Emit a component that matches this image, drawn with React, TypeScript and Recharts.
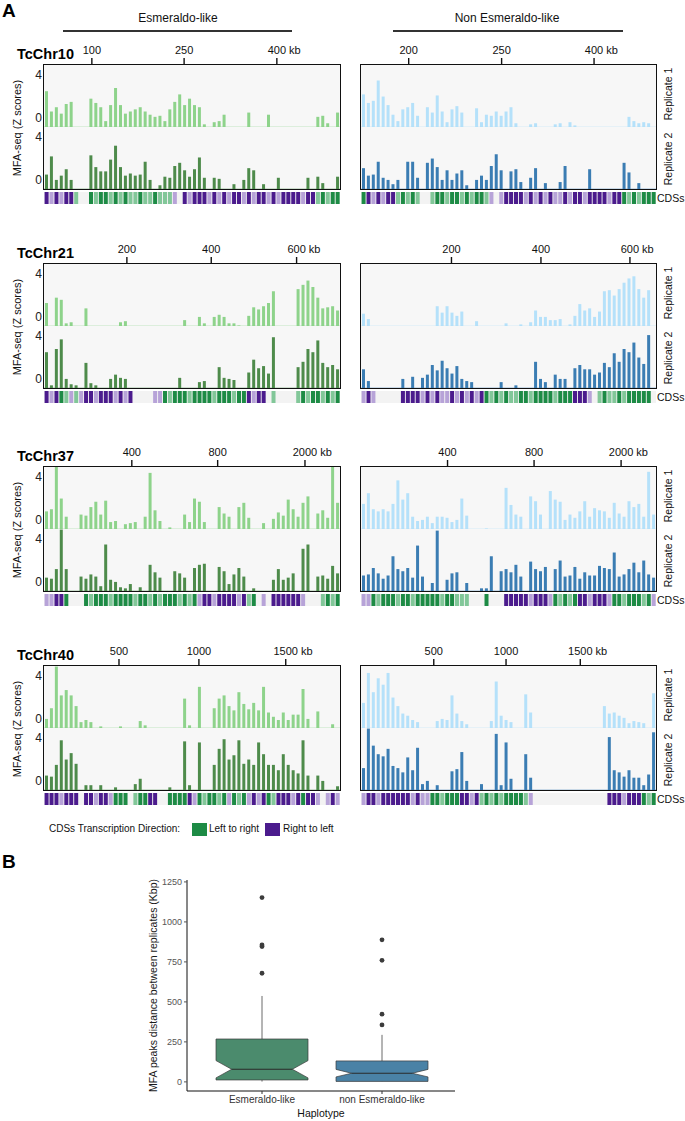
import React from 'react';
import { BarChart, Bar, XAxis, YAxis, Cell, ReferenceLine, ComposedChart, Scatter } from 'recharts';

const FONT = '"Liberation Sans", Arial, Helvetica, sans-serif';
const _ = null;

// ---------- Panel A: MFA-seq Z scores, 60 bins per track ----------
const chromosomes = ['TcChr10', 'TcChr21', 'TcChr37', 'TcChr40'];
const haplotypes = ['Esmeraldo-like', 'Non Esmeraldo-like'];

const chr10EsmRep1 = [2.5,0.6,1.0,0.4,1.3,1.5,_,_,_,1.8, 1.4,1.0,-0.3,1.2,2.8,1.2,0.4,0.6,0.8,1.0, 0.6,0.3,0.1,0.2,-0.3,0.8,1.5,2.2,1.2,1.8, 1.2,1.0,-0.6,_,-0.4,-0.3,0.3,_,_,_, _,0.5,_,_,_,0.3,_,_,_,_, _,_,_,_,_,0.1,0.2,-0.5,_,0.5];
const chr10EsmRep2 = [0.5,2.2,0.0,0.4,1.0,0.0,_,_,_,2.3, 1.2,0.8,0.8,1.9,3.2,1.2,0.4,0.6,0.4,0.5, 1.7,0.0,_,-0.5,0.3,0.2,1.3,1.6,0.9,0.3, 1.0,2.1,0.2,_,0.2,0.1,_,_,-0.4,_, 0.0,1.1,0.9,_,-0.4,_,_,0.2,_,_, _,_,_,0.2,_,0.3,-0.3,_,_,0.3];
const chr10NonRep1 = [2.2,1.4,1.6,3.5,2.0,1.2,0.3,-0.3,0.8,1.0, 1.4,0.2,_,1.0,0.5,2.1,0.6,-0.4,0.8,1.1, 0.5,_,_,0.9,-0.4,0.3,0.2,0.6,0.2,0.6, 1.0,-0.5,_,_,-0.6,-0.5,_,_,_,-0.6, -0.5,_,-0.4,-0.7,_,_,_,_,_,_, _,_,_,_,0.1,-0.3,-0.5,-0.4,-0.5,_];
const chr10NonRep2 = [1.1,0.4,0.5,1.7,0.2,0.0,-0.4,0.0,_,1.7, 1.7,0.2,_,1.6,2.0,1.2,0.0,0.9,0.0,0.6, 0.9,-0.5,_,0.0,0.4,0.0,1.3,2.4,0.9,_, 0.8,1.0,-0.2,_,0.2,1.1,_,-0.3,_,_, -0.2,1.3,_,_,_,_,1.0,_,_,_, _,_,_,1.6,0.7,_,-0.3,_,_,_];

const chr21EsmRep1 = [1.3,_,1.8,1.6,-0.6,-0.5,_,_,0.8,_, _,_,_,_,_,-0.5,-0.4,_,_,_, _,_,_,_,_,_,_,_,-0.3,_, _,0.0,-0.6,_,0.0,0.2,0.0,-0.6,-0.6,-0.8, _,0.1,0.9,0.7,1.0,1.3,2.4,_,_,_, _,2.6,3.0,3.4,2.8,1.8,0.8,0.9,1.0,0.6];
const chr21EsmRep2 = [2.5,-0.6,2.8,3.7,0.0,-0.5,-0.6,_,1.5,-0.4, -0.6,_,_,0.0,0.4,0.1,0.0,_,_,_, _,_,_,_,_,_,_,0.1,_,_, _,-0.3,-0.2,_,_,1.1,0.1,0.0,-0.1,_, _,0.6,1.8,1.0,1.2,0.5,3.9,_,_,_, _,1.1,1.6,2.8,2.5,3.6,1.5,1.1,1.3,0.9];
const chr21NonRep1 = [0.3,-0.2,_,_,_,_,_,_,_,_, _,_,_,_,_,1.0,0.4,1.0,0.4,0.1, 0.5,_,_,-0.4,_,_,_,_,_,-0.6, _,_,-0.7,_,-0.5,0.6,0.0,0.0,-0.3,-0.3, -0.2,_,-0.7,0.1,1.2,0.6,0.8,0.0,0.5,2.4, 2.5,2.0,2.6,3.2,3.6,3.8,2.6,1.8,2.5,_];
const chr21NonRep2 = [0.9,-0.2,_,_,_,_,_,_,0.0,_, 0.2,_,0.1,0.4,1.3,0.8,1.7,1.0,0.5,1.2, 0.0,-0.2,-0.3,_,_,_,_,_,-0.3,_, _,-0.6,_,_,_,1.6,0.0,-0.3,_,0.4, 0.0,0.0,_,1.0,1.3,0.9,0.9,0.4,0.6,1.5, 1.1,2.4,1.6,2.8,2.5,3.4,2.0,1.4,4.1,_];

const chr37EsmRep1 = [0.8,1.0,5.0,2.0,0.3,_,_,0.5,0.4,1.2, 1.7,0.5,1.8,-0.2,-0.1,_,-0.4,-0.3,-0.2,_, 0.3,4.4,0.9,-0.1,_,-0.7,_,_,0.5,-0.2, 2.0,1.7,-0.2,_,_,1.2,0.6,0.3,_,1.2, 1.6,0.2,_,_,-0.3,_,0.1,0.7,0.4,1.9, 1.0,0.3,1.6,2.2,_,0.6,0.9,0.2,5.0,1.6];
const chr37EsmRep2 = [0.4,0.3,1.2,4.9,1.2,_,_,0.5,0.3,0.7, 0.5,-0.4,3.5,0.2,0.0,-0.5,-0.6,-0.2,_,-0.5, _,1.6,0.9,0.4,_,_,1.0,0.8,0.4,_, 1.3,1.6,1.7,_,_,1.4,1.0,-0.2,0.7,1.3, 0.5,_,-0.6,_,_,_,0.2,1.2,0.2,0.4, 0.8,_,3.1,3.5,_,0.5,0.6,0.3,1.5,0.8];
const chr37NonRep1 = [1.5,2.5,1.0,0.8,1.0,0.8,1.5,3.7,1.9,2.5, 0.3,-0.1,0.0,0.3,-0.3,0.3,0.3,0.2,-0.2,0.0, 2.0,0.4,_,_,_,-0.8,_,_,_,3.0, 1.4,0.5,0.3,_,2.2,1.75,0.5,_,2.7,1.9, 1.7,0.0,0.5,0.2,0.8,1.75,0.3,1.1,0.9,0.8, 0.2,1.6,0.6,0.3,1.75,1.2,1.5,0.3,4.5,0.5];
const chr37NonRep2 = [0.6,0.7,1.3,0.8,0.3,0.6,2.4,1.2,1.0,1.3, 0.4,3.4,0.5,_,-0.1,4.8,_,0.2,0.8,0.9, _,-0.1,_,_,-0.6,-0.6,2.4,_,1.0,1.2, 0.9,1.6,0.5,_,1.9,1.2,1.0,1.4,_,1.2, 2.0,0.5,0.6,1.4,0.3,0.9,0.6,0.6,1.5,1.3, 1.2,2.75,0.5,0.7,1.2,1.8,0.9,2.0,0.7,0.4];

const chr40EsmRep1 = [0.0,1.0,4.9,2.2,2.7,2.2,1.2,-0.3,-0.1,-0.3, _,-0.7,_,_,_,-0.7,_,_,_,-0.2, -0.6,_,_,_,_,_,_,_,1.9,-0.6, _,3.0,_,_,1.0,1.9,2.2,1.2,0.8,2.5, 1.4,0.9,1.5,0.8,3.0,0.6,0.2,-0.1,0.6,-0.1, 0.4,0.4,2.8,0.0,_,0.7,_,_,-0.5,_];
const chr40EsmRep2 = [0.5,0.4,1.5,3.8,2.0,2.6,1.6,_,-0.4,-0.4, _,-0.4,_,_,-0.6,_,_,_,-0.3,0.2, _,_,_,_,_,-0.6,_,_,3.7,-0.4, _,3.6,_,_,1.5,3.0,3.9,2.0,2.4,3.8, 1.6,2.0,1.5,3.6,2.5,1.5,1.5,1.0,2.5,1.5, 1.0,0.7,3.8,0.5,_,0.5,0.0,_,_,-0.5];
const chr40NonRep1 = [1.5,4.3,2.5,3.8,3.2,4.3,2.0,1.2,0.5,0.3, -0.1,-0.3,_,_,_,-0.2,0.0,-0.1,2.2,0.5, -0.2,-0.5,_,_,_,_,-0.2,3.5,0.3,-0.1, -0.3,_,_,2.3,0.6,_,_,_,_,_, _,_,_,_,_,_,_,_,_,1.2, 0.5,0.6,0.3,0.1,-0.4,-0.2,-0.3,-0.4,_,2.4];
const chr40NonRep2 = [1.2,4.9,3.3,2.5,2.3,3.0,1.4,1.2,0.8,2.2, 1.0,3.1,-0.3,0.0,_,-0.4,_,_,0.9,1.1, 2.7,0.0,_,_,-0.3,_,_,4.4,-0.4,3.6, 0.2,_,_,2.5,0.3,_,_,_,_,_, _,_,_,_,_,_,_,_,_,_, 4.1,1.0,0.8,0.4,1.0,0.3,0.3,-0.4,0.6,4.55];

// CDS direction per bin: G/g left to right, P/p right to left (dark/light), . none
const chr10EsmCds = 'PpPpPPg..G' + 'gGGgGgGggG' + 'ggGgggp.Pp' + 'PPPpPpPpPP' + 'pPpPPpPpPP' + 'PPpPPgGgGG';
const chr10NonCds = 'GPpPpPPgGg' + 'Gg..gGGgGG' + 'gGgGGgp.pP' + 'PPPpPpPpPp' + 'pPpPPpPPPP' + 'pPPGgGgGGG';
const chr21EsmCds = 'PpPGgpgpPP' + 'pPPPpPpP..' + '..ppGgGGGg' + 'GGGGgGGGgG' + 'GPpPP.g...' + '.gGgGGgGgG';
const chr21NonCds = 'pPp.....PP' + 'PPpPpPppPp' + 'PpPpPGgGgG' + 'ggGGgGGGGg' + 'GGGPPPp.gG' + 'ggGgGGGGG.';
const chr37EsmCds = 'ppPPG...Gg' + 'GGGgGGGGgG' + 'GgGgGGGgGg' + 'GpPPpPPPPp' + 'PgG.p.PPPP' + 'PPp...gGgG';
const chr37NonCds = 'ppGgGGGgGG' + 'gGGGGGgGGg' + 'gg...G...P' + 'PPPPpPPPpG' + 'gGgGPPpPPP' + 'pGGgGGGgGp';
const chr40EsmCds = 'PPPpPPP.PP' + 'pPPpGGG.gG' + 'GPP..GGGGP' + 'pGgGGgGpGg' + 'GpPpPGgPPP' + 'pPGPPp.pPp';
const chr40NonCds = 'pPPpPPPPPP' + 'pPppGGgGGG' + 'PPpPgGgGgG' + 'GGGgp.....' + '..........' + 'PPPpPPPGgG';

// top axis tick labels (kb) and their bin positions
const chr10EsmTicks = ['100', '250', '400'];
const chr10NonTicks = ['200', '250', '400'];
const chr21Ticks = ['200', '400', '600'];
const chr37Ticks = ['400', '800', '2000'];
const chr40Ticks = ['500', '1000', '1500'];
const chr10EsmTickPos = [9.7, 28.4, 47.2];
const chr10NonTickPos = [9.7, 28.6, 47.4];
const chr21EsmTickPos = [16.8, 33.9, 51.2];
const chr21NonTickPos = [18.4, 36.6, 54.7];
const chr37EsmTickPos = [17.8, 35.2, 52.9];
const chr37NonTickPos = [17.6, 35.2, 52.9];
const chr40EsmTickPos = [15.2, 31.4, 49.0];
const chr40NonTickPos = [14.8, 29.5, 44.6];

// ---------- Panel B: box plot ----------
const boxGroups = ['Esmeraldo-like', 'non Esmeraldo-like'];
const boxQ1 = [12, 3];
const boxMedian = [79, 54];
const boxQ3 = [268, 131];
const boxNotchLo = [25, 31];
const boxNotchHi = [133, 78];
const whiskerLo = [2, 2];
const whiskerHi = [537, 294];
const esmOutliers = [1152, 856, 846, 679];
const nonOutliers = [888, 760, 423, 356];

const NBINS = 60;
const ZMIN = -0.85;
const ZMAX = 4.95;
const BOX_X = [44, 361];
const BOX_W = [296, 295];
const PANEL_TOP = [65, 264, 467, 666];
const REP_H = 62;
const TOP_AXIS_H = 22;
const Y_AXIS_W = 44;

const repColors = [['#8ed38b', '#4e8b4b'], ['#b5e1fa', '#3b7db3']];
const cdsColors: Record<string, string> = { G: '#1d8b45', g: '#82c799', P: '#4b1b8d', p: '#b7a3d8' };
const boxFills = ['#4b8b6d', '#4a82a6'];

const panels = [
  [
    { rep1: chr10EsmRep1, rep2: chr10EsmRep2, cds: chr10EsmCds, ticks: chr10EsmTicks, tickPos: chr10EsmTickPos },
    { rep1: chr10NonRep1, rep2: chr10NonRep2, cds: chr10NonCds, ticks: chr10NonTicks, tickPos: chr10NonTickPos },
  ],
  [
    { rep1: chr21EsmRep1, rep2: chr21EsmRep2, cds: chr21EsmCds, ticks: chr21Ticks, tickPos: chr21EsmTickPos },
    { rep1: chr21NonRep1, rep2: chr21NonRep2, cds: chr21NonCds, ticks: chr21Ticks, tickPos: chr21NonTickPos },
  ],
  [
    { rep1: chr37EsmRep1, rep2: chr37EsmRep2, cds: chr37EsmCds, ticks: chr37Ticks, tickPos: chr37EsmTickPos },
    { rep1: chr37NonRep1, rep2: chr37NonRep2, cds: chr37NonCds, ticks: chr37Ticks, tickPos: chr37NonTickPos },
  ],
  [
    { rep1: chr40EsmRep1, rep2: chr40EsmRep2, cds: chr40EsmCds, ticks: chr40Ticks, tickPos: chr40EsmTickPos },
    { rep1: chr40NonRep1, rep2: chr40NonRep2, cds: chr40NonCds, ticks: chr40Ticks, tickPos: chr40NonTickPos },
  ],
];

function KbTick(props: any) {
  const { x, y, index, labels } = props;
  const lab = labels[index] ?? '';
  const last = index === labels.length - 1;
  return (
    <g>
      <text x={x} y={y - 2} textAnchor="middle" fontSize={11} fontFamily={FONT} fill="#111">{lab}</text>
      {last && (
        <text x={x + lab.length * 3.06 + 3} y={y - 2} textAnchor="start" fontSize={11} fontFamily={FONT} fill="#111">kb</text>
      )}
    </g>
  );
}

function Track({ values, color, width, showY, topAxis, ticks, tickPos }: any) {
  const data = values.map((v: number | null, i: number) => ({ i, pos: i + 0.5, z: v === null ? null : [ZMIN, v] }));
  const yw = showY ? Y_AXIS_W : 0;
  const th = topAxis ? TOP_AXIS_H : 0;
  return (
    <BarChart width={width + yw} height={REP_H + th} data={data} margin={{ top: 0, right: 0, bottom: 0, left: 0 }} barCategoryGap="20%">
      <XAxis xAxisId="bins" dataKey="i" type="category" hide />
      {topAxis && (
        <XAxis
          xAxisId="top"
          dataKey="pos"
          type="number"
          orientation="top"
          domain={[0, NBINS]}
          allowDataOverflow
          ticks={tickPos}
          interval={0}
          height={TOP_AXIS_H}
          axisLine={false}
          tickSize={7}
          tickMargin={2}
          tickLine={{ stroke: '#111', strokeWidth: 1.4 }}
          tick={<KbTick labels={ticks} />}
        />
      )}
      <YAxis
        domain={[ZMIN, ZMAX]}
        allowDataOverflow
        ticks={[0, 4]}
        width={yw}
        hide={!showY}
        axisLine={false}
        tickLine={false}
        tickSize={0}
        tickMargin={2}
        tick={{ fontSize: 12, fill: '#222', fontFamily: FONT }}
      />
      <ReferenceLine xAxisId="bins" y={ZMIN} stroke={color} strokeOpacity={0.5} />
      <Bar xAxisId="bins" dataKey="z" fill={color} isAnimationActive={false} />
    </BarChart>
  );
}

function CdsStrip({ code, width }: any) {
  const data = code.split('').map((c: string, i: number) => ({ i, v: c === '.' ? null : 1, c }));
  return (
    <BarChart width={width} height={12} data={data} margin={{ top: 0, right: 0, bottom: 0, left: 0 }} barCategoryGap="12%">
      <XAxis dataKey="i" type="category" hide />
      <YAxis domain={[0, 1]} hide />
      <Bar dataKey="v" isAnimationActive={false}>
        {data.map((d: any, k: number) => (
          <Cell key={k} fill={cdsColors[d.c] ?? 'none'} />
        ))}
      </Bar>
    </BarChart>
  );
}

function RotLabel({ cx, cy, w, text, size }: any) {
  return (
    <div
      style={{
        position: 'absolute', left: cx - w / 2, top: cy - 8, width: w, height: 16, lineHeight: '16px',
        textAlign: 'center', fontSize: size, fontFamily: FONT, color: '#111', transform: 'rotate(-90deg)', whiteSpace: 'nowrap',
      }}
    >
      {text}
    </div>
  );
}

function NotchedBox(props: any) {
  const { x, y, width, height, payload, index } = props;
  if (!payload || height <= 0) return null;
  const k = boxGroups.indexOf(payload.name);
  const ppu = height / (payload.q3 - payload.q1);
  const yOf = (v: number) => y + (payload.q3 - v) * ppu;
  const x0 = x, x1 = x + width, inset = width * 0.17, cx = x + width / 2;
  const pts = [
    [x0, yOf(payload.q3)], [x1, yOf(payload.q3)], [x1, yOf(payload.nhi)], [x1 - inset, yOf(payload.med)],
    [x1, yOf(payload.nlo)], [x1, yOf(payload.q1)], [x0, yOf(payload.q1)], [x0, yOf(payload.nlo)],
    [x0 + inset, yOf(payload.med)], [x0, yOf(payload.nhi)],
  ].map(p => p.join(',')).join(' ');
  return (
    <g key={index}>
      <line x1={cx} x2={cx} y1={yOf(payload.whi)} y2={yOf(payload.q3)} stroke="#444" strokeWidth={0.8} />
      <line x1={cx} x2={cx} y1={yOf(payload.q1)} y2={yOf(payload.wlo)} stroke="#444" strokeWidth={0.8} />
      <polygon points={pts} fill={boxFills[k]} stroke="#3a3a3a" strokeWidth={0.7} />
      <line x1={x0 + inset} x2={x1 - inset} y1={yOf(payload.med)} y2={yOf(payload.med)} stroke="#2a2a2a" strokeWidth={1.1} />
    </g>
  );
}

function OutlierDot(props: any) {
  const { cx, cy } = props;
  if (cx == null || cy == null || Number.isNaN(cy)) return null;
  return <circle cx={cx} cy={cy} r={2.4} fill="#3c3c3c" />;
}

export default function App() {
  const boxData = boxGroups.map((name, k) => {
    const outs = k === 0 ? esmOutliers : nonOutliers;
    return {
      name, q1: boxQ1[k], med: boxMedian[k], q3: boxQ3[k], nlo: boxNotchLo[k], nhi: boxNotchHi[k], wlo: whiskerLo[k], whi: whiskerHi[k],
      o0: outs[0], o1: outs[1], o2: outs[2], o3: outs[3],
    };
  });

  const els: React.ReactNode[] = [];
  panels.forEach((row, c) => {
    const top = PANEL_TOP[c];
    els.push(
      <div key={`chr${c}`} style={{ position: 'absolute', left: 17, top: top - 20, fontSize: 14.5, fontWeight: 700, fontFamily: FONT, color: '#000', lineHeight: '18px' }}>
        {chromosomes[c]}
      </div>,
    );
    els.push(<RotLabel key={`ylab${c}`} cx={17} cy={top + 63} w={120} text="MFA-seq (Z scores)" size={11} />);
    els.push(<RotLabel key={`r1${c}`} cx={668} cy={top + 29} w={70} text="Replicate 1" size={10.5} />);
    els.push(<RotLabel key={`r2${c}`} cx={668} cy={top + 94} w={70} text="Replicate 2" size={10.5} />);
    els.push(
      <div key={`cdsl${c}`} style={{ position: 'absolute', left: 657, top: top + 127, fontSize: 10.5, fontFamily: FONT, color: '#111', lineHeight: '13px' }}>
        CDSs
      </div>,
    );
    row.forEach((p, s) => {
      const bx = BOX_X[s], bw = BOX_W[s];
      const yw = s === 0 ? Y_AXIS_W : 0;
      els.push(<div key={`bg${c}${s}`} style={{ position: 'absolute', left: bx, top, width: bw, height: 2 * REP_H, background: '#f7f7f7' }} />);
      els.push(
        <div key={`t1${c}${s}`} style={{ position: 'absolute', left: bx - yw, top: top - TOP_AXIS_H }}>
          <Track values={p.rep1} color={repColors[s][0]} width={bw} showY={s === 0} topAxis ticks={p.ticks} tickPos={p.tickPos} />
        </div>,
      );
      els.push(
        <div key={`t2${c}${s}`} style={{ position: 'absolute', left: bx - yw, top: top + REP_H }}>
          <Track values={p.rep2} color={repColors[s][1]} width={bw} showY={s === 0} topAxis={false} />
        </div>,
      );
      els.push(
        <div key={`bd${c}${s}`} style={{ position: 'absolute', left: bx - 1, top: top - 1, width: bw + 2, height: 2 * REP_H + 2, border: '1.5px solid #111', boxSizing: 'border-box', pointerEvents: 'none' }} />,
      );
      els.push(
        <div key={`cds${c}${s}`} style={{ position: 'absolute', left: bx, top: top + 127, width: bw, height: 12, background: '#f3f3f3' }}>
          <CdsStrip code={p.cds} width={bw} />
        </div>,
      );
    });
  });

  const txt = (extra: any) => ({ position: 'absolute' as const, fontFamily: FONT, color: '#111', whiteSpace: 'nowrap' as const, ...extra });

  return (
    <div style={{ position: 'absolute', left: 0, top: 0, width: 685, height: 1121, background: '#fff', overflow: 'hidden' }}>
      <div style={txt({ left: 2, top: 0, fontSize: 19, fontWeight: 700, color: '#000' })}>A</div>
      <div style={txt({ left: 78, top: 11, width: 200, textAlign: 'center', fontSize: 12 })}>{haplotypes[0]}</div>
      <div style={{ position: 'absolute', left: 63, top: 30, width: 229, height: 1.5, background: '#333' }} />
      <div style={txt({ left: 407, top: 11, width: 200, textAlign: 'center', fontSize: 12 })}>{haplotypes[1]}</div>
      <div style={{ position: 'absolute', left: 393, top: 30, width: 230, height: 1.5, background: '#333' }} />

      {els}

      <div style={txt({ left: 49, top: 822, fontSize: 10, lineHeight: '14px' })}>CDSs Transcription Direction:</div>
      <div style={{ position: 'absolute', left: 192, top: 823, width: 15, height: 13, background: '#1d8b45' }} />
      <div style={txt({ left: 209, top: 822, fontSize: 10, lineHeight: '14px' })}>Left to right</div>
      <div style={{ position: 'absolute', left: 265, top: 823, width: 15, height: 13, background: '#4b1b8d' }} />
      <div style={txt({ left: 283, top: 822, fontSize: 10, lineHeight: '14px' })}>Right to left</div>

      <div style={txt({ left: 2, top: 851, fontSize: 19, fontWeight: 700, color: '#000' })}>B</div>

      <div style={{ position: 'absolute', left: 120, top: 870 }}>
        <ComposedChart width={340} height={251} data={boxData} margin={{ top: 10, right: 5, bottom: 0, left: 0 }}>
          <XAxis
            dataKey="name"
            type="category"
            height={30}
            padding={{ left: 15, right: 13 }}
            axisLine={{ stroke: '#111', strokeWidth: 1 }}
            tickLine={{ stroke: '#333' }}
            tickSize={3}
            tickMargin={2}
            tick={{ fontSize: 10, fill: '#333', fontFamily: FONT }}
            label={{ value: 'Haplotype', position: 'insideBottom', offset: 4, fontSize: 10.5, fill: '#111', fontFamily: FONT }}
          />
          <YAxis
            type="number"
            domain={[-57, 1262]}
            allowDataOverflow
            ticks={[0, 250, 500, 750, 1000, 1250]}
            width={67}
            axisLine={{ stroke: '#111', strokeWidth: 1 }}
            tickLine={{ stroke: '#555' }}
            tickSize={3}
            tickMargin={2}
            tick={{ fontSize: 9, fill: '#555', fontFamily: FONT }}
            label={{ value: 'MFA peaks distance between replicates (Kbp)', angle: -90, position: 'center', fontSize: 10.5, fill: '#1a1a1a', fontFamily: FONT }}
          />
          <Bar dataKey={(d: any) => [d.q1, d.q3]} barSize={92} shape={<NotchedBox />} isAnimationActive={false} />
          <Scatter dataKey="o0" shape={<OutlierDot />} isAnimationActive={false} />
          <Scatter dataKey="o1" shape={<OutlierDot />} isAnimationActive={false} />
          <Scatter dataKey="o2" shape={<OutlierDot />} isAnimationActive={false} />
          <Scatter dataKey="o3" shape={<OutlierDot />} isAnimationActive={false} />
        </ComposedChart>
      </div>
    </div>
  );
}
